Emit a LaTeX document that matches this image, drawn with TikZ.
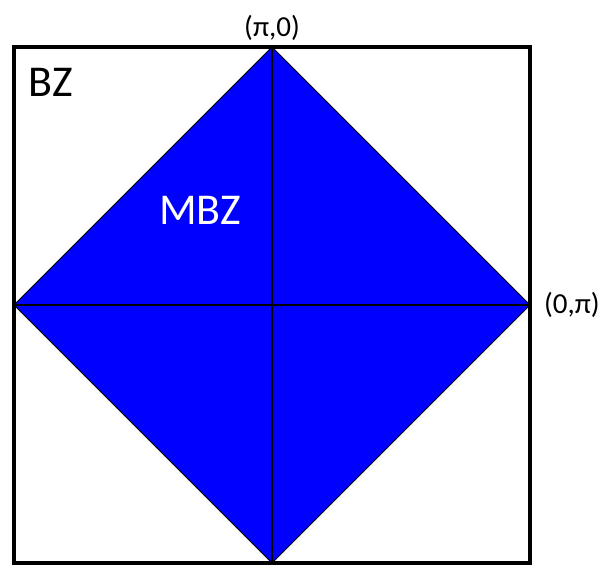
\documentclass[tikz,border=0pt]{standalone}
\usepackage{fontspec}
\setmainfont{Carlito}
\usetikzlibrary{positioning}
\definecolor{MBZBlue}{RGB}{0,0,255}

\begin{document}
\begin{tikzpicture}[
  x=1pt,y=-1pt,
  zone/.style={draw=black,line width=4pt},
  half/.style={fill=MBZBlue,draw=black,line width=1pt,line join=miter},
  axis/.style={draw=black,line width=1.2pt},
  lbl/.style={inner sep=0pt,font=\fontsize{29}{32}\selectfont},
  big/.style={inner sep=0pt,font=\fontsize{44}{48}\selectfont}
]
\useasboundingbox (0,0) rectangle (615,567);
% corners of the zone and of the folded zone
\coordinate (top) at (272,47);
\coordinate (right) at (530,305);
\coordinate (bottom) at (272,563);
\coordinate (left) at (14,305);
\draw[zone] (14,47) rectangle (530,563);
\draw[half] (top) -- (right) -- (bottom) -- (left) -- cycle;
\draw[axis] (top) -- (bottom);
\draw[axis] (left) -- (right);
\node[lbl,above=6pt of top] (kx) {(π,0)};
\node[lbl,right=14pt of right] (ky) {(0,π)};
\node[big,anchor=center] (bz) at (51,82) {BZ};
\node[big,text=white,anchor=center] (mbz) at (200,210) {MBZ};
\end{tikzpicture}
\end{document}
